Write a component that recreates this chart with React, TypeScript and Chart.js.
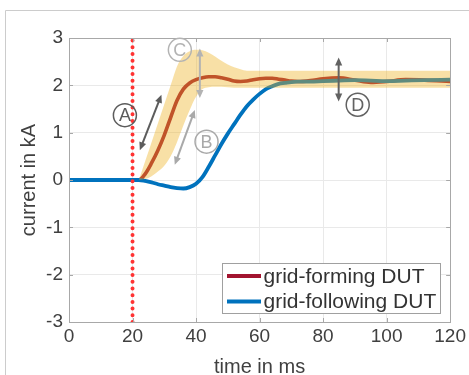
import React, { useEffect, useRef } from 'react';
import { Chart, registerables } from 'chart.js';

Chart.register(...registerables);

// ---------- data ----------
const timeMs = [0, 10, 20, 22, 24, 26, 28, 30, 32, 34, 36, 38, 40, 42, 44, 46, 48, 50, 52, 54, 56, 58, 60, 62, 64, 66, 68, 70, 72, 76, 80, 85, 90, 95, 100, 106, 112, 120];
const gridForming = [0, 0, 0, 0, 0.13, 0.36, 0.63, 0.95, 1.32, 1.68, 1.92, 2.05, 2.12, 2.16, 2.18, 2.18, 2.16, 2.13, 2.09, 2.08, 2.09, 2.12, 2.14, 2.15, 2.15, 2.13, 2.11, 2.09, 2.08, 2.10, 2.14, 2.16, 2.11, 2.06, 2.08, 2.12, 2.11, 2.08];
const gridFollowing = [0, 0, 0, 0, -0.02, -0.05, -0.09, -0.12, -0.15, -0.17, -0.18, -0.15, -0.08, 0.06, 0.28, 0.52, 0.76, 0.98, 1.18, 1.38, 1.56, 1.70, 1.82, 1.92, 1.98, 2.03, 2.05, 2.07, 2.08, 2.08, 2.09, 2.10, 2.11, 2.10, 2.09, 2.10, 2.11, 2.12];

const bandTimeMs = [22, 23, 24, 26, 28, 30, 32, 34, 36, 38, 40, 42, 44, 46, 48, 50, 52, 54, 56, 60, 80, 100, 120];
const bandUpper = [0, 0.2, 0.4, 0.8, 1.2, 1.6, 2.0, 2.4, 2.62, 2.72, 2.75, 2.74, 2.69, 2.61, 2.52, 2.44, 2.38, 2.34, 2.31, 2.31, 2.31, 2.31, 2.31];
const bandLower = [0, 0.01, 0.02, 0.08, 0.18, 0.30, 0.50, 0.80, 1.15, 1.48, 1.76, 1.92, 1.96, 1.97, 1.97, 1.96, 1.95, 1.95, 1.95, 1.95, 1.95, 1.95, 1.95];

const faultTimeMs = [20, 20];
const faultRange = [-3, 3];

const seriesNames = ['grid-forming DUT', 'grid-following DUT'];

// annotation markers (data units)
const markerLabels = ['A', 'B', 'C', 'D'];
const markerX = [17.6, 43.3, 34.9, 90.9];
const markerY = [1.37, 0.81, 2.75, 1.59];
const arrowX1 = [22.3, 33.3, 41.2, 84.9];
const arrowY1 = [0.63, 0.32, 1.73, 1.66];
const arrowX2 = [29.1, 39.6, 41.2, 84.9];
const arrowY2 = [1.80, 1.48, 2.78, 2.59];

// ---------- styles ----------
const FONT = '"Liberation Sans", Arial, Helvetica, sans-serif';
const RED = '#A2142F';
const BLUE = '#0072BD';
const BAND = 'rgba(237,177,32,0.4)';
const TEXT = '#404040';
const markerColors = ['#5c5c5c', '#a9a9a9', '#b3b3b3', '#626262'];

const toPts = (xs: number[], ys: number[]) => xs.map((x, i) => ({ x, y: ys[i] }));

function drawArrowHead(ctx: CanvasRenderingContext2D, fx: number, fy: number, tx: number, ty: number) {
  const ang = Math.atan2(ty - fy, tx - fx);
  const len = 8;
  const hw = 3.6;
  ctx.beginPath();
  ctx.moveTo(tx, ty);
  ctx.lineTo(tx - len * Math.cos(ang) + hw * Math.sin(ang), ty - len * Math.sin(ang) - hw * Math.cos(ang));
  ctx.lineTo(tx - len * Math.cos(ang) - hw * Math.sin(ang), ty - len * Math.sin(ang) + hw * Math.cos(ang));
  ctx.closePath();
  ctx.fill();
}

const framePlugin = {
  id: 'frame',
  beforeDraw(chart: any) {
    const { ctx, width, height } = chart;
    ctx.save();
    ctx.fillStyle = '#ffffff';
    ctx.fillRect(0, 0, width, height);
    ctx.strokeStyle = '#cccccc';
    ctx.lineWidth = 1;
    ctx.beginPath();
    ctx.moveTo(5.5, height);
    ctx.lineTo(5.5, 10.5);
    ctx.lineTo(width, 10.5);
    ctx.stroke();
    ctx.restore();
  },
  afterDatasetsDraw(chart: any) {
    const { ctx, chartArea: a, scales } = chart;
    ctx.save();
    ctx.strokeStyle = '#a8a8a8';
    ctx.lineWidth = 1;
    ctx.strokeRect(Math.round(a.left) + 0.5, Math.round(a.top) + 0.5, Math.round(a.right - a.left), Math.round(a.bottom - a.top));
    // inward ticks
    ctx.beginPath();
    scales.x.ticks.forEach((t: any) => {
      const px = Math.round(scales.x.getPixelForValue(t.value)) + 0.5;
      ctx.moveTo(px, a.bottom); ctx.lineTo(px, a.bottom - 4);
      ctx.moveTo(px, a.top); ctx.lineTo(px, a.top + 4);
    });
    scales.y.ticks.forEach((t: any) => {
      const py = Math.round(scales.y.getPixelForValue(t.value)) + 0.5;
      ctx.moveTo(a.left, py); ctx.lineTo(a.left + 4, py);
      ctx.moveTo(a.right, py); ctx.lineTo(a.right - 4, py);
    });
    ctx.stroke();

    // annotation arrows and circled letters
    const xs = scales.x, ys = scales.y;
    markerLabels.forEach((lab, i) => {
      const c = markerColors[i];
      ctx.strokeStyle = c;
      ctx.fillStyle = c;
      const x1 = xs.getPixelForValue(arrowX1[i]);
      const y1 = ys.getPixelForValue(arrowY1[i]);
      const x2 = xs.getPixelForValue(arrowX2[i]);
      const y2 = ys.getPixelForValue(arrowY2[i]);
      const ang = Math.atan2(y2 - y1, x2 - x1);
      ctx.lineWidth = 2;
      ctx.beginPath();
      ctx.moveTo(x1 + 6 * Math.cos(ang), y1 + 6 * Math.sin(ang));
      ctx.lineTo(x2 - 6 * Math.cos(ang), y2 - 6 * Math.sin(ang));
      ctx.stroke();
      drawArrowHead(ctx, x1, y1, x2, y2);
      drawArrowHead(ctx, x2, y2, x1, y1);

      const cx = xs.getPixelForValue(markerX[i]);
      const cy = ys.getPixelForValue(markerY[i]);
      ctx.lineWidth = 1.5;
      ctx.beginPath();
      ctx.arc(cx, cy, 11.5, 0, Math.PI * 2);
      ctx.stroke();
      ctx.fillStyle = c;
      ctx.font = `18px ${FONT}`;
      ctx.textAlign = 'center';
      ctx.textBaseline = 'middle';
      ctx.fillText(lab, cx, cy + 1);
    });
    ctx.restore();
  },
  afterDraw(chart: any) {
    const { ctx, chartArea: a } = chart;
    ctx.save();
    const w = 218, h = 50;
    const bx = Math.round(a.right - 10 - w) + 0.5;
    const by = Math.round(a.bottom - 9 - h) + 0.5;
    ctx.fillStyle = '#ffffff';
    ctx.fillRect(bx, by, w, h);
    ctx.strokeStyle = '#a0a0a0';
    ctx.lineWidth = 1;
    ctx.strokeRect(bx, by, w, h);
    const colors = [RED, BLUE];
    seriesNames.forEach((name, i) => {
      const ly = by + 12.5 + i * 25.5;
      ctx.strokeStyle = colors[i];
      ctx.lineWidth = 4;
      ctx.beginPath();
      ctx.moveTo(bx + 4.5, ly);
      ctx.lineTo(bx + 38.5, ly);
      ctx.stroke();
      ctx.fillStyle = '#333333';
      ctx.font = `21px ${FONT}`;
      ctx.textAlign = 'left';
      ctx.textBaseline = 'middle';
      ctx.fillText(name, bx + 41, ly + 1);
    });
    ctx.restore();
  },
};

export default function App() {
  const ref = useRef<HTMLCanvasElement>(null);
  useEffect(() => {
    const chart = new Chart(ref.current as HTMLCanvasElement, {
      type: 'line',
      data: {
        datasets: [
          {
            label: 'fault',
            data: toPts(faultTimeMs, faultRange),
            borderColor: '#ff3333',
            borderWidth: 4,
            borderDash: [0, 6.7],
            borderCapStyle: 'round',
            pointRadius: 0,
            fill: false,
            order: 0,
          } as any,
          {
            label: 'band upper',
            data: toPts(bandTimeMs, bandUpper),
            borderWidth: 0,
            borderColor: 'rgba(0,0,0,0)',
            backgroundColor: BAND,
            pointRadius: 0,
            fill: '+1',
            cubicInterpolationMode: 'monotone',
            order: 1,
          },
          {
            label: 'band lower',
            data: toPts(bandTimeMs, bandLower),
            borderWidth: 0,
            borderColor: 'rgba(0,0,0,0)',
            pointRadius: 0,
            fill: false,
            cubicInterpolationMode: 'monotone',
            order: 1,
          },
          {
            label: seriesNames[1],
            data: toPts(timeMs, gridFollowing),
            borderColor: BLUE,
            borderWidth: 3.8,
            pointRadius: 0,
            fill: false,
            cubicInterpolationMode: 'monotone',
            order: 2,
          },
          {
            label: seriesNames[0],
            data: toPts(timeMs, gridForming),
            borderColor: RED,
            borderWidth: 3.6,
            pointRadius: 0,
            fill: false,
            cubicInterpolationMode: 'monotone',
            order: 3,
          },
        ],
      },
      options: {
        responsive: false,
        animation: false,
        events: [],
        layout: { padding: { top: 38, right: 18, bottom: 0, left: 0 } },
        plugins: { legend: { display: false }, tooltip: { enabled: false }, title: { display: false } },
        scales: {
          x: {
            type: 'linear',
            min: 0,
            max: 120,
            afterFit: (s: any) => { s.height = 53; },
            ticks: { stepSize: 20, color: TEXT, font: { size: 19, family: FONT }, padding: 3, maxRotation: 0, autoSkip: false },
            grid: { color: '#e9e9e9', drawTicks: false },
            border: { display: false },
            title: { display: true, text: 'time in ms', color: TEXT, font: { size: 20, family: FONT }, padding: { top: 0, bottom: -4 } },
          },
          y: {
            type: 'linear',
            min: -3,
            max: 3,
            afterFit: (s: any) => { s.width = 69; },
            ticks: { stepSize: 1, color: TEXT, font: { size: 19, family: FONT }, padding: 6 },
            grid: { color: '#e9e9e9', drawTicks: false },
            border: { display: false },
            title: { display: true, text: 'current in kA', color: TEXT, font: { size: 20, family: FONT }, padding: { top: 17, bottom: 0 } },
          },
        },
      },
      plugins: [framePlugin],
    } as any);
    return () => chart.destroy();
  }, []);
  return (
    <div style={{ position: 'fixed', left: 0, top: 0, width: 469, height: 375, background: '#fff', overflow: 'hidden' }}>
      <canvas ref={ref} width={469} height={375} style={{ display: 'block', width: 469, height: 375 }} />
    </div>
  );
}
